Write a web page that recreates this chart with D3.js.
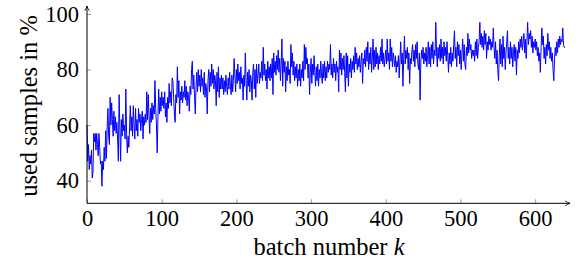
<!DOCTYPE html>
<html>
<head>
<meta charset="utf-8">
<script src="https://cdn.jsdelivr.net/npm/d3@7/dist/d3.min.js"></script>
<style>
  body { margin: 0; background: #fff; }
</style>
</head>
<body>
<div id="chart"></div>
<script>
// used samples (%) per batch
var usedSamples = [
  60, 47, 53, 44, 49, 46, 51, 41, 43, 57,
  54, 57, 51, 57, 53, 49, 57, 52, 46, 47,
  38, 47, 44, 52, 47, 58, 48, 59, 66, 56,
  53, 70, 60, 68, 62, 56, 65, 58, 63, 57,
  61, 55, 47, 71, 59, 47, 62, 56, 64, 58,
  60, 55, 73, 57, 50, 56, 52, 59, 67, 58,
  63, 56, 67, 60, 55, 66, 58, 62, 56, 66,
  61, 64, 58, 62, 65, 55, 63, 60, 64, 61,
  72, 62, 71, 63, 57, 66, 61, 68, 62, 67,
  64, 76, 66, 60, 50, 63, 73, 64, 70, 65,
  72, 67, 70, 66, 72, 63, 68, 61, 70, 66,
  75, 68, 72, 67, 77, 76, 70, 64, 61, 71,
  68, 81, 70, 76, 64, 72, 69, 74, 68, 72,
  70, 76, 69, 74, 67, 72, 70, 65, 74, 71,
  80, 83, 73, 78, 70, 64, 74, 79, 72, 80,
  74, 78, 72, 80, 74, 77, 71, 79, 70, 75,
  73, 64, 76, 80, 72, 79, 74, 82, 75, 80,
  73, 78, 76, 67, 79, 72, 81, 70, 77, 73,
  78, 73, 77, 71, 76, 72, 78, 74, 71, 77,
  73, 79, 74, 71, 78, 72, 76, 84, 78, 72,
  80, 75, 82, 76, 79, 73, 81, 75, 77, 69,
  78, 74, 86, 76, 69, 79, 74, 80, 72, 78,
  76, 69, 79, 82, 73, 80, 70, 82, 75, 78,
  82, 75, 79, 77, 83, 76, 88, 78, 82, 76,
  80, 73, 83, 77, 81, 76, 82, 77, 84, 71,
  86, 79, 83, 78, 85, 80, 87, 79, 84, 76,
  82, 91, 74, 84, 79, 83, 72, 81, 76, 83,
  78, 80, 75, 89, 81, 86, 78, 83, 76, 81,
  77, 82, 74, 80, 76, 82, 74, 80, 77, 83,
  76, 89, 80, 88, 82, 84, 77, 82, 71, 79,
  84, 75, 82, 78, 85, 79, 74, 81, 76, 82,
  74, 80, 77, 83, 78, 75, 82, 77, 83, 76,
  81, 77, 83, 79, 82, 80, 89, 78, 82, 77,
  84, 79, 82, 76, 83, 79, 81, 72, 87, 80,
  86, 78, 84, 80, 85, 79, 72, 86, 77, 85,
  74, 82, 79, 84, 77, 83, 80, 85, 79, 88,
  82, 86, 80, 84, 81, 85, 79, 83, 86, 75,
  84, 82, 87, 81, 88, 83, 90, 80, 86, 82,
  88, 79, 84, 91, 80, 87, 81, 88, 82, 86,
  80, 85, 82, 88, 83, 91, 82, 86, 81, 84,
  87, 82, 91, 83, 86, 80, 91, 83, 88, 81,
  86, 84, 81, 85, 79, 83, 81, 85, 77, 83,
  90, 82, 86, 74, 84, 92, 82, 87, 84, 88,
  80, 86, 75, 84, 82, 87, 89, 83, 87, 81,
  89, 84, 90, 82, 80, 86, 69, 83, 87, 84,
  88, 82, 86, 83, 88, 81, 85, 90, 82, 88,
  81, 89, 84, 90, 82, 87, 85, 97, 86, 81,
  88, 84, 89, 83, 91, 84, 88, 82, 90, 85,
  88, 83, 90, 85, 79, 86, 82, 88, 81, 86,
  83, 89, 94, 84, 88, 81, 90, 85, 89, 82,
  87, 80, 86, 91, 83, 89, 82, 80, 88, 85,
  93, 86, 91, 87, 89, 84, 87, 85, 87, 83,
  90, 85, 91, 84, 88, 90, 97, 89, 93, 88,
  92, 87, 94, 89, 93, 84, 90, 87, 92, 89,
  91, 87, 90, 88, 95, 88, 84, 90, 82, 87,
  80, 76, 85, 91, 82, 89, 81, 92, 84, 88,
  80, 86, 90, 94, 84, 88, 82, 90, 84, 88,
  81, 86, 89, 83, 88, 78, 87, 84, 90, 86,
  91, 88, 92, 87, 90, 93, 86, 91, 84, 90,
  97, 89, 93, 91, 94, 88, 92, 86, 90, 88,
  91, 87, 90, 85, 88, 83, 86, 79, 88, 95,
  89, 92, 84, 88, 82, 89, 85, 93, 87, 90,
  84, 88, 83, 86, 80, 76, 84, 88, 85, 90,
  86, 91, 88, 92, 89, 91, 90, 95, 89, 88,
  88
];
var batchNumbers = usedSamples.map(function(d, i) { return i; });

var xTicks = [0, 100, 200, 300, 400, 500, 600];
var yTicks = [40, 60, 80, 100];

var serif = "'Liberation Serif'";

var svgWidth = 581;
var svgHeight = 267;

var margin = { top: 14, left: 87 };
var width = 478;
var height = 189.3;

var svg = d3.select("#chart")
  .append("svg")
  .attr("width", svgWidth)
  .attr("height", svgHeight);

var chartGroup = svg.append("g")
  .attr("transform", `translate(${margin.left}, ${margin.top})`);

var xLinearScale = d3.scaleLinear()
  .domain([0, 640])
  .range([0, width]);

var yLinearScale = d3.scaleLinear()
  .domain([31.86, 100])
  .range([height, 0]);

// axes with small inward gray ticks
var bottomAxis = d3.axisBottom(xLinearScale)
  .tickValues(xTicks)
  .tickSize(-4)
  .tickPadding(7);

var leftAxis = d3.axisLeft(yLinearScale)
  .tickValues(yTicks)
  .tickSize(-4)
  .tickPadding(8);

var xAxis = chartGroup.append("g")
  .attr("transform", `translate(0, ${height})`)
  .call(bottomAxis);

var yAxis = chartGroup.append("g")
  .call(leftAxis);

[xAxis, yAxis].forEach(function(ax) {
  ax.attr("font-family", null);
  ax.select(".domain").remove();
  ax.selectAll(".tick line").attr("stroke", "#808080").attr("stroke-width", 0.8);
  ax.selectAll(".tick text")
    .attr("fill", "#000")
    .style("font-size", "22.5px")
    .style("font-family", serif);
});

// data line
var line = d3.line()
  .x(function(d, i) { return xLinearScale(batchNumbers[i]); })
  .y(function(d) { return yLinearScale(d); });

chartGroup.append("path")
  .datum(usedSamples)
  .attr("fill", "none")
  .attr("stroke", "#0000ff")
  .attr("stroke-width", 1)
  .attr("stroke-linejoin", "round")
  .attr("d", line);

// axis lines with arrow heads
svg.append("defs").append("marker")
  .attr("id", "arrow")
  .attr("viewBox", "0 0 10 10")
  .attr("refX", 9)
  .attr("refY", 5)
  .attr("markerWidth", 6)
  .attr("markerHeight", 6)
  .attr("markerUnits", "userSpaceOnUse")
  .attr("orient", "auto")
  .append("path")
  .attr("d", "M1,1 Q5,4 9,5 Q5,6 1,9")
  .attr("fill", "none")
  .attr("stroke", "#000")
  .attr("stroke-width", 1.4);

chartGroup.append("line")
  .attr("x1", 0).attr("y1", height)
  .attr("x2", width + 5).attr("y2", height)
  .attr("stroke", "#000")
  .attr("stroke-width", 1)
  .attr("marker-end", "url(#arrow)");

chartGroup.append("line")
  .attr("x1", 0).attr("y1", height)
  .attr("x2", 0).attr("y2", -8)
  .attr("stroke", "#000")
  .attr("stroke-width", 1)
  .attr("marker-end", "url(#arrow)");

// axis labels
var xLabel = svg.append("text")
  .attr("x", 329)
  .attr("y", 255)
  .attr("text-anchor", "middle")
  .style("font-family", serif)
  .style("font-size", "24.5px")
  .text("batch number ");
xLabel.append("tspan")
  .style("font-style", "italic")
  .text("k");

svg.append("text")
  .attr("transform", "translate(37, 106) rotate(-90)")
  .attr("text-anchor", "middle")
  .style("font-family", serif)
  .style("font-size", "24.5px")
  .text("used samples in %");
</script>
</body>
</html>
